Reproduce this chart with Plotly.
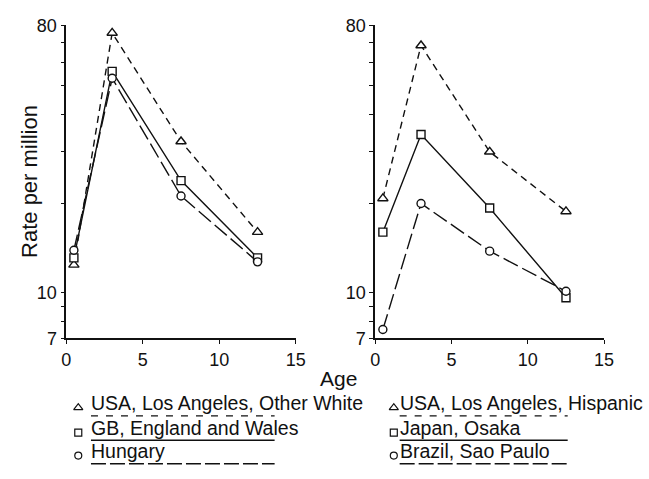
import math
import plotly.graph_objects as go

# ---------------- data ----------------
ages = [0.5, 3, 7.5, 12.5]

# left panel
la_other_white = [12.4, 75.4, 32.4, 16.0]
gb_england_wales = [13.1, 55.9, 23.9, 13.1]
hungary = [13.9, 53.0, 21.2, 12.7]

# right panel
la_hispanic = [20.8, 68.4, 29.9, 18.8]
japan_osaka = [16.0, 34.2, 19.3, 9.6]
brazil_sao_paulo = [7.5, 20.0, 13.8, 10.1]

x_ticks = [0, 5, 10, 15]
y_ticks = [7, 8, 9, 10, 20, 30, 40, 50, 60, 70, 80]
y_tick_labels = ["7", "", "", "10", "", "", "", "", "", "", "80"]

left_labels = ["USA, Los Angeles, Other White", "GB, England and Wales", "Hungary"]
right_labels = ["USA, Los Angeles, Hispanic", "Japan, Osaka", "Brazil, Sao Paulo"]

# ---------------- styles ----------------
W, H = 649, 479
FONT = "Liberation Sans, Arial, Helvetica, sans-serif"
BLACK = "#111111"
DASH_SHORT = "7px,5px"
DASH_LONG = "16px,5px"
symbols = ["triangle-up", "square", "circle"]
dashes = [DASH_SHORT, "solid", DASH_LONG]
msizes = [9, 8, 8]

fig = go.Figure()


def add_series(xa, ya, y, sym, dash, ms):
    fig.add_trace(go.Scatter(
        x=ages, y=y, xaxis=xa, yaxis=ya, mode="lines+markers",
        line=dict(color=BLACK, width=1.4, dash=dash),
        marker=dict(symbol=sym, size=ms, color="white",
                    line=dict(color=BLACK, width=1.4)),
        showlegend=False, hoverinfo="x+y"))


for y, s, d, m in zip([la_other_white, gb_england_wales, hungary], symbols, dashes, msizes):
    add_series("x", "y", y, s, d, m)
for y, s, d, m in zip([la_hispanic, japan_osaka, brazil_sao_paulo], symbols, dashes, msizes):
    add_series("x2", "y2", y, s, d, m)


# pixel helpers (margins are zero so paper == pixels)
def px(x):
    return x / W


def py(y):
    return 1 - y / H


ydom = [py(342.7), py(16)]
xdom1 = [px(62.7), px(297.7)]
xdom2 = [px(379), px(613.3)]

xaxis_common = dict(
    range=[0, 15], tickvals=x_ticks, ticks="outside", ticklen=4, tickwidth=1.3,
    tickcolor=BLACK, showline=True, linecolor=BLACK, linewidth=1.5,
    showgrid=False, zeroline=False, tickfont=dict(family=FONT, size=18, color=BLACK),
    fixedrange=True)
yaxis_common = dict(
    type="log", range=[math.log10(7), math.log10(80)], tickvals=y_ticks,
    ticktext=y_tick_labels, ticks="outside", ticklen=4, tickwidth=1.3,
    tickcolor=BLACK, showline=True, linecolor=BLACK, linewidth=1.5,
    showgrid=False, zeroline=False, tickfont=dict(family=FONT, size=18, color=BLACK),
    fixedrange=True)

fig.update_layout(
    width=W, height=H, autosize=False,
    margin=dict(l=0, r=0, t=0, b=0, pad=0),
    paper_bgcolor="white", plot_bgcolor="rgba(0,0,0,0)",
    showlegend=False,
    xaxis=dict(domain=xdom1, anchor="y", **xaxis_common),
    yaxis=dict(domain=ydom, anchor="x", **yaxis_common),
    xaxis2=dict(domain=xdom2, anchor="y2", **xaxis_common),
    yaxis2=dict(domain=ydom, anchor="x2", **yaxis_common),
    xaxis3=dict(domain=[0, 1], range=[0, W], visible=False, fixedrange=True, anchor="y3"),
    yaxis3=dict(domain=[0, 1], range=[H, 0], visible=False, fixedrange=True, anchor="x3"),
)

annotations = []
# axis titles
annotations.append(dict(text="Rate per million", x=px(25), y=py(179), xref="paper", yref="paper",
                        textangle=-90, showarrow=False,
                        font=dict(family=FONT, size=22, color=BLACK),
                        xanchor="center", yanchor="middle"))
annotations.append(dict(text="Age", x=px(341), y=py(385), xref="paper", yref="paper",
                        showarrow=False, font=dict(family=FONT, size=21, color=BLACK),
                        xanchor="center", yanchor="middle"))

# legend block
row_text_y = [410, 436, 460]
row_sym_y = [415, 441, 465]
row_line_y = [423.5, 449, 473.5]
columns = [
    dict(labels=left_labels, sym_x=75, text_x=86, line_x=(88, 276)),
    dict(labels=right_labels, sym_x=398, text_x=402, line_x=(404, 576)),
]
leg_sizes = [8, 7, 7]
for col in columns:
    for i, lab in enumerate(col["labels"]):
        annotations.append(dict(text=lab, x=col["text_x"], y=row_text_y[i], xref="x3", yref="y3",
                                showarrow=False, xanchor="left", yanchor="middle",
                                font=dict(family=FONT, size=19.5, color=BLACK)))
        fig.add_trace(go.Scatter(
            x=[col["sym_x"]], y=[row_sym_y[i]], xaxis="x3", yaxis="y3", mode="markers",
            marker=dict(symbol=symbols[i] + "-open", size=leg_sizes[i], color=BLACK,
                        line=dict(color=BLACK, width=1.2)),
            showlegend=False, hoverinfo="skip"))
        fig.add_trace(go.Scatter(
            x=list(col["line_x"]), y=[row_line_y[i]] * 2, xaxis="x3", yaxis="y3", mode="lines",
            line=dict(color=BLACK, width=1.3,
                      dash=["7px,8px", "solid", "15px,4px"][i]),
            showlegend=False, hoverinfo="skip"))

fig.update_layout(annotations=annotations)

fig.write_html("out.html",
               post_script="document.body.style.margin='0';document.body.style.overflow='hidden';")
